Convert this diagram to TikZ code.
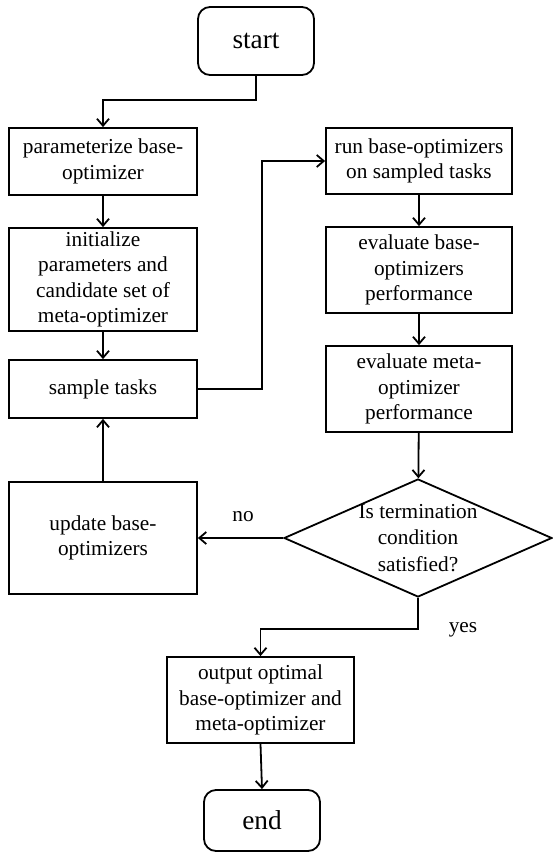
\documentclass[tikz,border=0pt]{standalone}
\usepackage{fontspec}
\setmainfont{Liberation Serif}
\usetikzlibrary{arrows.meta,shapes.geometric}

\begin{document}
\begin{tikzpicture}[x=1pt,y=-1pt,line width=1.8pt,
        >={Straight Barb[length=7pt,width=12pt]},
        box/.style={draw,rectangle,align=center,inner sep=0pt,
            font=\rmfamily\fontsize{21.3}{25.5}\selectfont},
        terminal/.style={draw,rectangle,rounded corners=12pt,inner sep=0pt,
            minimum width=116pt,font=\rmfamily\fontsize{27.3}{32}\selectfont},
        decision/.style={draw,diamond,inner sep=0pt,
            minimum width=268pt,minimum height=118pt},
        lbl/.style={align=center,font=\rmfamily\fontsize{21.3}{26.5}\selectfont}]
        \useasboundingbox (0,0) rectangle (552,854);
        \node[terminal,minimum height=68pt] (start) at (256,41) {start};
        \node[box,minimum width=188pt,minimum height=67pt] (param) at (103,161.5) {parameterize base-\\optimizer};
        \node[box,minimum width=188pt,minimum height=103pt] (init) at (103,279.5) {initialize\\parameters and\\candidate set of\\meta-optimizer};
        \node[box,minimum width=188pt,minimum height=58pt] (sample) at (103,389) {sample tasks};
        \node[box,minimum width=188pt,minimum height=112pt] (update) at (103,538) {update base-\\optimizers};
        \node[box,minimum width=186pt,minimum height=66pt] (run) at (419,161) {run base-optimizers\\on sampled tasks};
        \node[box,minimum width=186pt,minimum height=86pt] (evalbase) at (419,270) {evaluate base-\\optimizers\\performance};
        \node[box,minimum width=186pt,minimum height=86pt] (evalmeta) at (419,389) {evaluate meta-\\optimizer\\performance};
        \node[decision] (cond) at (418,538) {};
        \node[lbl] (condtext) at (cond) {Is termination\\condition\\satisfied?};
        \node[box,minimum width=187pt,minimum height=86pt] (output) at (260.5,700) {output optimal\\base-optimizer and\\meta-optimizer};
        \node[terminal,minimum height=61pt] (end) at (262,820.5) {end};
        \node[lbl] (no) at (243,517) {no};
        \node[lbl] (yes) at (463,630) {yes};
        \draw[->] (start.south) -- ++(0,24) -| (param.north);
        \draw[->] (param) -- (init);
        \draw[->] (init) -- (sample);
        \draw[->] (sample.east) -- ++(64,0) |- (run.west);
        \draw[->] (run) -- (evalbase);
        \draw[->] (evalbase) -- (evalmeta);
        \draw[->] (evalmeta) -- (cond);
        \draw[->] (cond.west) -- (update.east);
        \draw[->] (update) -- (sample);
        \draw[->] (cond.south) -- ++(0,31) -| (output.north);
        \draw[->] (output.south) -- (end.north);
\end{tikzpicture}
\end{document}
